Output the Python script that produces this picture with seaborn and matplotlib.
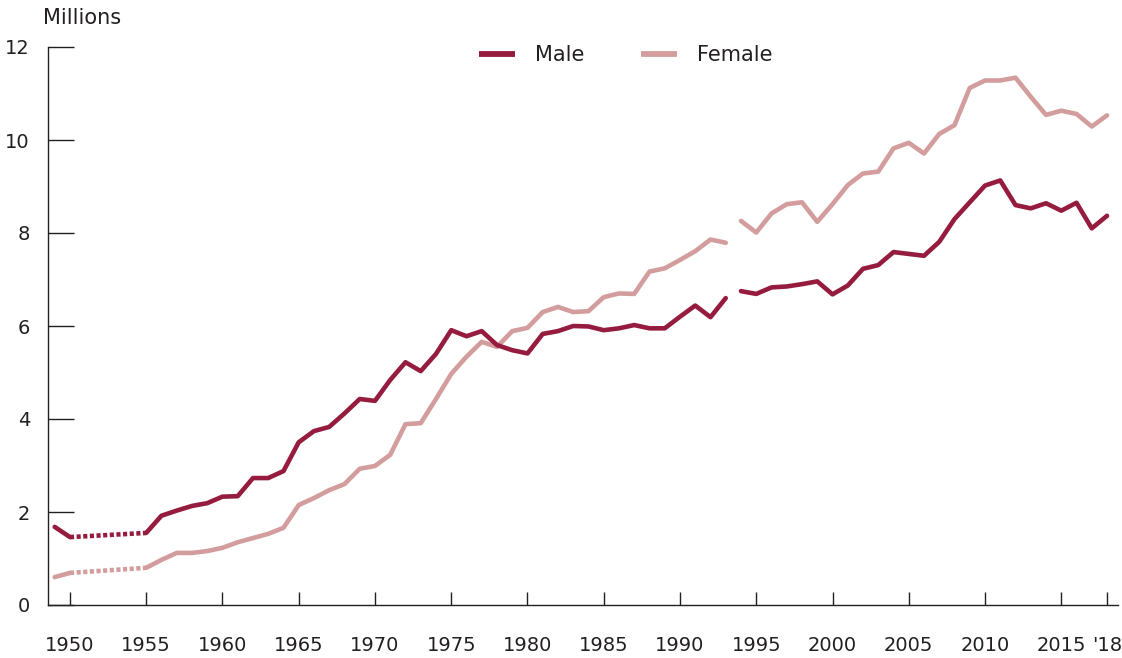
import pandas as pd
import matplotlib
matplotlib.use('Agg')
import matplotlib.pyplot as plt
import seaborn as sns

# ── Data (millions) ─────────────────────────────
years = [1949, 1950] + list(range(1955, 2019))
male = [1.68, 1.46,
        1.55, 1.92, 2.03, 2.13, 2.19, 2.33, 2.34, 2.73, 2.73, 2.88,
        3.50, 3.74, 3.83, 4.12, 4.43, 4.39, 4.84, 5.22, 5.03, 5.40,
        5.91, 5.78, 5.89, 5.59, 5.48, 5.41, 5.83, 5.89, 6.00, 5.99,
        5.91, 5.95, 6.02, 5.95, 5.95, 6.20, 6.44, 6.19, 6.60,
        6.75, 6.69, 6.83, 6.85, 6.90, 6.96, 6.68, 6.87, 7.23, 7.31,
        7.59, 7.55, 7.51, 7.81, 8.30, 8.66, 9.02, 9.13, 8.60, 8.53,
        8.64, 8.48, 8.65, 8.10, 8.37]
female = [0.60, 0.69,
          0.80, 0.97, 1.12, 1.12, 1.16, 1.23, 1.35, 1.44, 1.53, 1.66,
          2.15, 2.30, 2.47, 2.60, 2.93, 2.99, 3.23, 3.89, 3.91, 4.43,
          4.97, 5.34, 5.66, 5.55, 5.89, 5.96, 6.30, 6.41, 6.30, 6.32,
          6.62, 6.70, 6.69, 7.17, 7.24, 7.42, 7.61, 7.86, 7.79,
          8.26, 8.01, 8.42, 8.62, 8.66, 8.24, 8.62, 9.03, 9.28, 9.32,
          9.82, 9.94, 9.71, 10.13, 10.32, 11.12, 11.28, 11.28, 11.34, 10.93,
          10.54, 10.63, 10.56, 10.29, 10.53]

# segments: (first year, last year, dotted?)
segments = [(1949, 1950, False), (1950, 1955, True),
            (1955, 1993, False), (1994, 2018, False)]

tick_years = [1950, 1955, 1960, 1965, 1970, 1975, 1980, 1985, 1990,
              1995, 2000, 2005, 2010, 2015, 2018]
tick_labels = ['1950', '1955', '1960', '1965', '1970', '1975', '1980',
               '1985', '1990', '1995', '2000', '2005', '2010', '2015', "'18"]

df = pd.DataFrame({'year': years, 'Male': male, 'Female': female})

male_color = '#951c3f'
female_color = '#d29d9c'
ink = '#231f20'

sns.set_style('white')
plt.rcParams['font.family'] = ['DejaVu Sans']

fig = plt.figure(figsize=(11.22, 6.58), dpi=100)
ax = fig.add_axes([48 / 1122, 1 - 605 / 658, 1070 / 1122, 558 / 658])

for col, color in [('Female', female_color), ('Male', male_color)]:
    for i, (a, b, dotted) in enumerate(segments):
        seg = df[(df['year'] >= a) & (df['year'] <= b)]
        if dotted:
            seg = seg[seg['year'].isin([a, b])]
        sns.lineplot(data=seg, x='year', y=col, ax=ax, color=color,
                     linewidth=3.3, solid_capstyle='round',
                     dash_capstyle='butt',
                     linestyle=(0, (0.9, 0.55)) if dotted else '-',
                     label=col if i == 2 else None, legend=False)

ax.set_xlim(1948.56, 2018.72)
ax.set_ylim(0, 12)
ax.set_yticks([0, 2, 4, 6, 8, 10, 12])
ax.set_xticks(tick_years)
ax.set_xticklabels(tick_labels)
ax.set_xlabel('')
ax.set_ylabel('')

for s in ['top', 'right']:
    ax.spines[s].set_visible(False)
for s in ['left', 'bottom']:
    ax.spines[s].set_color(ink)
    ax.spines[s].set_linewidth(1.0)

ax.tick_params(axis='y', left=True, direction='in', length=19, width=1.0,
               color=ink, labelsize=14, labelcolor=ink, pad=13)
ax.tick_params(axis='x', bottom=True, direction='in', length=9.5, width=1.0,
               color=ink, labelsize=14, labelcolor=ink, pad=22)
ax.grid(False)

handles, labels = ax.get_legend_handles_labels()
order = [labels.index('Male'), labels.index('Female')]
leg = ax.legend([handles[i] for i in order], [labels[i] for i in order],
                loc='center', bbox_to_anchor=(0.54, 0.986), ncol=2,
                frameon=False, fontsize=15, handlelength=1.75,
                handletextpad=0.95, columnspacing=2.7, labelcolor=ink)
for h in leg.get_lines():
    h.set_linewidth(4.2)
    h.set_solid_capstyle('butt')

fig.text(43 / 1122, 1 - 18 / 658, 'Millions', fontsize=15,
         color=ink, va='center', ha='left')

fig.savefig('out.png', dpi=100)
